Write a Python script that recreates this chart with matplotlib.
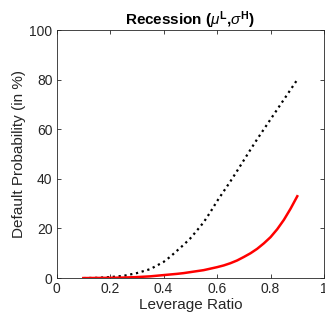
import numpy as np
import matplotlib
matplotlib.use("Agg")
import matplotlib.pyplot as plt

plt.rcParams['font.family'] = ['Liberation Sans', 'DejaVu Sans']
plt.rcParams['mathtext.fontset'] = 'custom'
plt.rcParams['mathtext.rm'] = 'Liberation Sans'
plt.rcParams['mathtext.it'] = 'Liberation Sans:italic'
plt.rcParams['mathtext.bf'] = 'Liberation Sans:bold'

# leverage ratio grid and default probabilities (in %)
lev = [0.1, 0.15, 0.2, 0.25, 0.3, 0.35, 0.4, 0.425, 0.45, 0.475, 0.5,
       0.525, 0.55, 0.575, 0.6, 0.625, 0.65, 0.675, 0.7, 0.725, 0.75,
       0.775, 0.8, 0.825, 0.85, 0.875, 0.9]
pd_dotted = [0.0, 0.1, 0.4, 0.9, 2.0, 3.6, 6.5, 8.6, 11.0, 13.4, 16.0,
             19.2, 22.5, 26.6, 31.0, 35.0, 39.0, 43.2, 47.5, 51.8, 56.0,
             60.0, 64.0, 68.0, 72.0, 76.0, 80.0]
pd_red = [0.0, 0.05, 0.1, 0.2, 0.4, 0.7, 1.2, 1.45, 1.7, 2.0, 2.4,
          2.8, 3.2, 3.8, 4.4, 5.1, 6.0, 7.1, 8.5, 10.0, 11.8,
          14.0, 16.5, 19.7, 23.5, 28.0, 33.0]

xticks = [0, 0.2, 0.4, 0.6, 0.8, 1]
xticklabels = ['0', '0.2', '0.4', '0.6', '0.8', '1']
yticks = [0, 20, 40, 60, 80, 100]

grey = (0.15, 0.15, 0.15)

fig = plt.figure(figsize=(3.25, 3.2), dpi=100)
ax = fig.add_axes([0.174, 0.131, 0.823, 0.775])

ax.plot(lev, pd_dotted, color='k', linestyle=':', linewidth=1.6)
ax.plot(lev, pd_red, color='r', linestyle='-', linewidth=1.8)

ax.set_xlim(0, 1)
ax.set_ylim(0, 100)
ax.set_xticks(xticks)
ax.set_xticklabels(xticklabels)
ax.set_yticks(yticks)
ax.tick_params(direction='in', top=True, right=True, length=3, width=0.6,
               colors=grey, labelsize=10, pad=3)
for sp in ax.spines.values():
    sp.set_color(grey)
    sp.set_linewidth(0.6)

ax.set_xlabel('Leverage Ratio', fontsize=11, color=grey, labelpad=1)
ax.set_ylabel('Default Probability (in %)', fontsize=11, color=grey, labelpad=2)
ax.set_title(r'Recession ($\mu^{\mathbf{L}}$,$\sigma^{\mathbf{H}}$)',
             fontsize=11, fontweight='bold', pad=4)

fig.savefig('out.png', dpi=100)
